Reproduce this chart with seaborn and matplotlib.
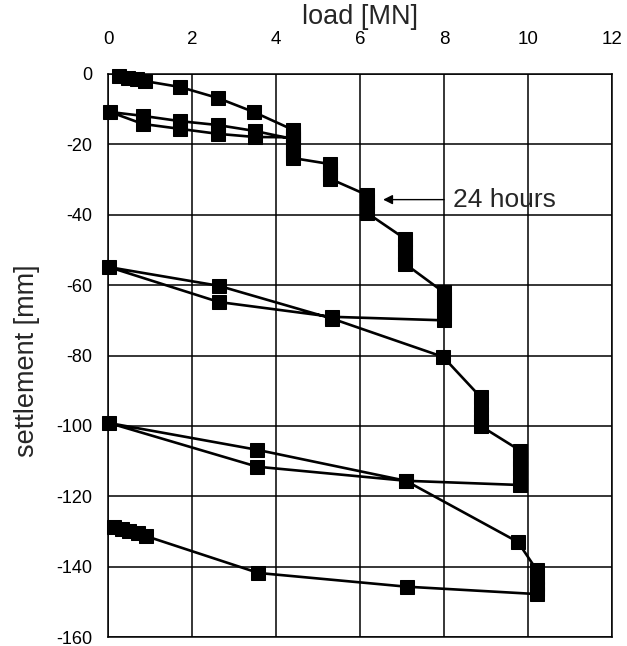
import numpy as np
import pandas as pd
import matplotlib
matplotlib.use('Agg')
import matplotlib.pyplot as plt
import seaborn as sns

# %% Data (load test path, in the order it was run)
load = [0.25, 0.48, 0.68, 0.87, 1.72, 2.61, 3.47,
        4.41, 4.41, 4.41,
        3.50, 2.61, 1.72, 0.83, 0.05,
        0.83, 1.72, 2.61, 3.50, 4.41,
        4.41, 4.41, 4.41, 4.41,
        5.29, 5.29, 5.29, 5.29,
        6.17, 6.17, 6.17, 6.17,
        7.08, 7.08, 7.08, 7.08, 7.08,
        7.99, 7.99, 7.99, 7.99, 7.99,
        5.33, 2.64, 0.03,
        2.64, 5.33, 7.98,
        8.87, 8.87, 8.87, 8.87, 8.87,
        9.81, 9.81, 9.81, 9.81, 9.81,
        7.09, 3.55, 0.03,
        3.55, 7.09, 9.76,
        10.21, 10.21, 10.21, 10.21, 10.21,
        7.11, 3.58, 0.90, 0.71, 0.51, 0.33, 0.14]
settlement = [-0.6, -1.0, -1.4, -2.0, -3.7, -6.8, -10.8,
              -15.9, -17.0, -18.0,
              -17.9, -17.0, -15.6, -14.2, -10.8,
              -11.9, -13.4, -14.5, -16.2, -18.5,
              -20.0, -21.5, -23.0, -23.9,
              -25.6, -27.0, -28.5, -29.8,
              -34.4, -36.0, -38.0, -39.5,
              -46.9, -48.5, -50.5, -52.5, -54.0,
              -62.0, -64.0, -66.0, -68.0, -70.0,
              -69.0, -64.8, -54.9,
              -60.2, -69.5, -80.4,
              -91.8, -94.0, -96.5, -98.5, -100.0,
              -107.0, -109.5, -112.0, -114.5, -116.8,
              -115.6, -111.6, -99.2,
              -106.8, -115.6, -133.0,
              -141.0, -143.0, -145.0, -146.5, -147.8,
              -145.7, -141.8, -131.3, -130.4, -129.8, -129.2, -128.7]

x_ticks = [0, 2, 4, 6, 8, 10, 12]
y_ticks = [0, -20, -40, -60, -80, -100, -120, -140, -160]

df = pd.DataFrame({'load': load, 'settlement': settlement})

# %% Plot
sns.set_style('white')
plt.rcParams['font.family'] = ['Liberation Sans', 'DejaVu Sans']
plt.rcParams['axes.unicode_minus'] = False

fig = plt.figure(figsize=(6.27, 6.46), dpi=100)
ax = fig.add_axes([108/627, 1 - 637/646, 504/627, 563/646])

sns.lineplot(data=df, x='load', y='settlement', sort=False, estimator=None,
             color='black', linewidth=1.9, marker='s', markersize=10,
             markeredgecolor='black', markerfacecolor='black', ax=ax,
             clip_on=False, zorder=3)

ax.set_xlim(0, 12)
ax.set_ylim(-160, 0)
ax.set_xticks(x_ticks)
ax.set_yticks(y_ticks)
ax.xaxis.tick_top()
ax.xaxis.set_label_position('top')
ax.tick_params(axis='both', length=0, labelsize=13, colors='black')
ax.tick_params(axis='x', pad=18.5, labelsize=13.5)
ax.tick_params(axis='y', pad=11)
ax.grid(True, color='black', linewidth=1.1)
ax.set_axisbelow(True)
for s in ax.spines.values():
    s.set_color('black')
    s.set_linewidth(1.1)

ax.set_xlabel('load [MN]', fontsize=19.5)
ax.set_ylabel('settlement [mm]', fontsize=19.5)
ax.xaxis.set_label_coords(0.5, 1.102)
ax.yaxis.set_label_coords(-0.161, 0.49)
ax.xaxis.label.set_va('center')
ax.yaxis.label.set_va('center')

ax.annotate('', xy=(6.55, -35.7), xytext=(8.0, -35.7),
            arrowprops=dict(arrowstyle='-|>', color='black', lw=1.0,
                            mutation_scale=14, shrinkA=0, shrinkB=0))
ax.text(8.21, -35.7, '24 hours', fontsize=19, va='center', ha='left')

fig.savefig('out.png', dpi=100)
